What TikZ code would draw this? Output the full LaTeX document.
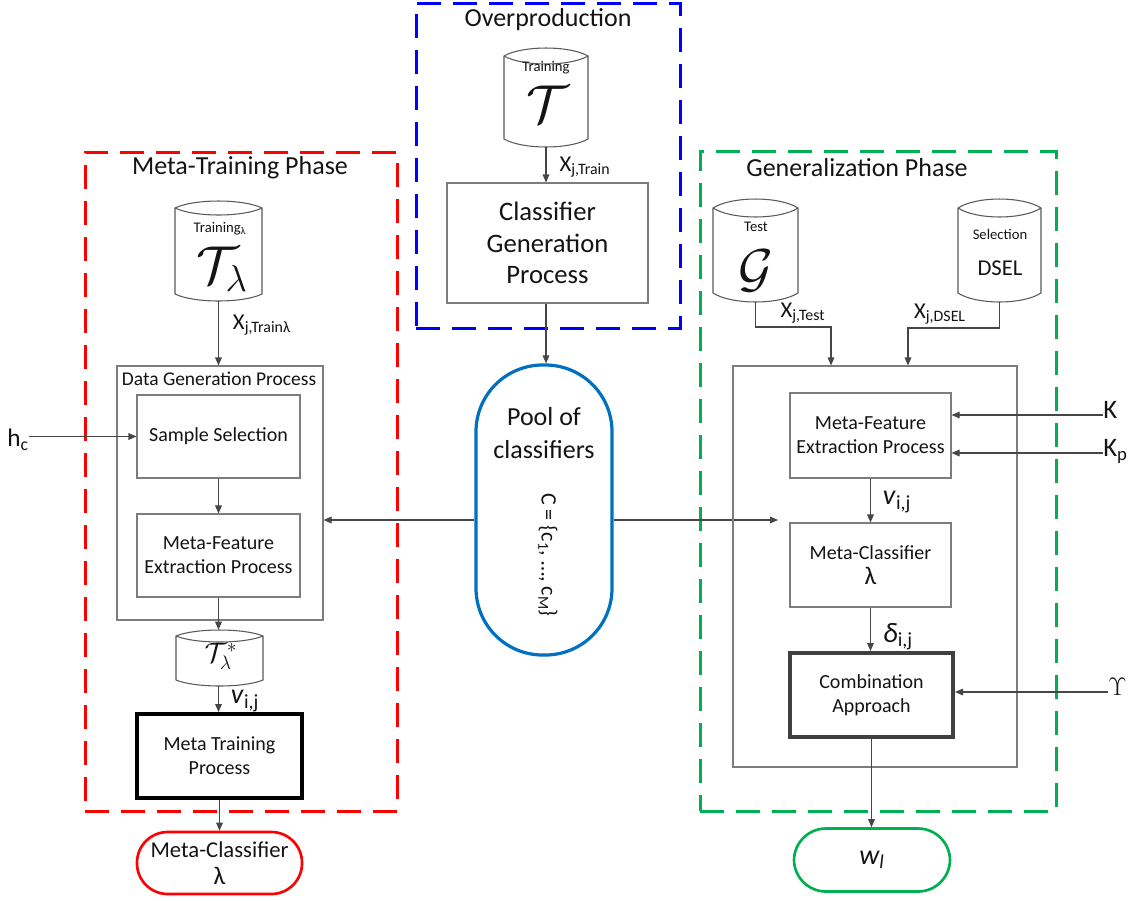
\documentclass[tikz,border=0pt]{standalone}
\usepackage{fix-cm}
\usepackage{fontspec}
\setmainfont{Carlito}
\usetikzlibrary{arrows.meta,fit,calc}
\definecolor{redc}{RGB}{255,0,0}
\definecolor{greenc}{RGB}{0,176,80}
\definecolor{bluec}{RGB}{0,0,255}
\definecolor{poolc}{RGB}{0,112,192}
\definecolor{boxgray}{RGB}{125,125,125}
\definecolor{linec}{RGB}{70,70,70}
\definecolor{cylgray}{RGB}{90,90,90}
\definecolor{darkbox}{RGB}{64,64,64}
\definecolor{txt}{RGB}{20,20,20}
\newcommand{\fsz}[2]{\fontsize{#1pt}{#2pt}\selectfont}
\newcommand{\dbcyl}[6]{%
  \pgfmathsetmacro\cqa{#2+(#3-#2)*0.22}%
  \pgfmathsetmacro\cqb{#2+(#3-#2)*0.78}%
  \pgfmathsetmacro\cyu{#4-1.33*#6}%
  \pgfmathsetmacro\cyd{#4+1.33*#6}%
  \pgfmathsetmacro\cyb{#5+1.33*#6}%
  \pgfmathsetmacro\ctop{#4-#6}%
  \pgfmathsetmacro\cbot{#5+#6}%
  \draw[cylline] (#2,#4) .. controls (\cqa,\cyu) and (\cqb,\cyu) .. (#3,#4) -- (#3,#5) .. controls (\cqb,\cyb) and (\cqa,\cyb) .. (#2,#5) -- cycle;
  \draw[cylline] (#2,#4) .. controls (\cqa,\cyd) and (\cqb,\cyd) .. (#3,#4);
  \node[inner sep=0pt, fit={(#2,\ctop) (#3,\cbot)}] (#1) {};
}
\begin{document}
\begin{tikzpicture}[x=0.75pt,y=-0.75pt,
  every node/.style={text=txt},
  phaseframe/.style={draw=#1, line width=2.25pt, dash pattern=on 18pt off 9pt, inner sep=0pt},
  conn/.style={draw=linec, line width=0.8pt, -{Triangle[length=6pt,width=5pt]}},
  box/.style={draw=boxgray, line width=0.8pt, align=center, inner sep=0pt},
  thickbox/.style={draw=#1, line width=3pt, align=center, inner sep=0pt},
  cylline/.style={draw=cylgray, line width=0.8pt},
  term/.style={draw=#1, line width=2pt, align=center, inner sep=0pt},
  lbl/.style={inner sep=0pt, font=\fsz{17}{19}},
  cyltxt/.style={inner sep=0pt},
]
\useasboundingbox[fill=white] (0,0) rectangle (1134,900);

% ---------------- frames
\node[phaseframe=bluec, fit={(416,3) (680,328)}] (ovp) {};
\node[phaseframe=redc, fit={(85,152) (397,811)}] (mtr) {};
\node[phaseframe=greenc, fit={(700,151) (1056,811)}] (gen) {};
\node[font=\fsz{19.5}{22}] (ovpt) at (548,20) {Overproduction};
\node[font=\fsz{19.5}{22}] (mtrt) at (240,168) {Meta-Training Phase};
\node[font=\fsz{19.5}{22}] (gent) at (857,168) {Generalization Phase};

% ---------------- overproduction
\dbcyl{tr}{504}{588}{56}{139}{8}
\node[cyltxt, font=\fsz{11}{13}] (trl) at (546,68) {Training};
\node[cyltxt, font=\fsz{40}{42}] (trs) at (548,104) {$\mathcal{T}$};
\node[box, minimum width=201*0.75pt, minimum height=120*0.75pt, font=\fsz{20}{23.6}] (cgp) at (547.5,243) {Classifier\\Generation\\Process};
\node[draw=poolc, line width=2.4pt, rounded corners=50pt, minimum width=136*0.75pt, minimum height=290*0.75pt, inner sep=0pt] (pool) at (544,510) {};
\node[align=center, font=\fsz{19.5}{24.75}] (poolt) at (544,433) {Pool of\\classifiers};
\node[rotate=-90, font=\fsz{16.5}{18}] (poolc) at (548,555) {C = \{c\textsubscript{1}, …, c\textsubscript{M}\}};

\draw[conn] (tr.south) -- (tr.south |- cgp.north);
\node[lbl] at (585,167) {X\textsubscript{j,Train}};
\draw[conn] (cgp.south -| tr.south) -- (tr.south |- pool.north);

% ---------------- meta-training
\dbcyl{tl}{175}{262}{208}{294}{7}
\node[cyltxt, font=\fsz{11}{13}] (tll) at (220,229) {Training\textsubscript{λ}};
\node[cyltxt, font=\fsz{40}{42}] (tls) at (222,269) {$\mathcal{T}_{\lambda}$};
\node[box, minimum width=206*0.75pt, minimum height=254*0.75pt] (dgp) at (220,493) {};
\node[font=\fsz{14.6}{17}] (dgpt) at (219,379) {Data Generation Process};
\node[box, minimum width=163*0.75pt, minimum height=83*0.75pt, font=\fsz{15}{18}] (ss) at (218.5,436.5) {Sample Selection};
\node[box, minimum width=163*0.75pt, minimum height=83*0.75pt, font=\fsz{15}{18}] (mfe1) at (218.5,555.5) {Meta-Feature\\Extraction Process};
\dbcyl{ts}{176}{263}{636}{680}{6}
\node[cyltxt, font=\fsz{21}{23}] (tss) at (221,656) {$\mathcal{T}_{\lambda}^{*}$};
\node[thickbox=black, minimum width=165*0.75pt, minimum height=84*0.75pt, font=\fsz{15}{18}] (mtp) at (219.5,756) {Meta Training\\Process};
\node[term=redc, rounded corners=23pt, minimum width=165*0.75pt, minimum height=62*0.75pt, font=\fsz{17}{21}] (mc) at (219.5,863) {Meta-Classifier\\[-1pt]{\fsz{19}{20}λ}};
\node[inner sep=0pt, font=\fsz{19}{21}] (hc) at (18,440) {h\textsubscript{c}};

\draw[conn] (tl.south) -- (tl.south |- dgp.north);
\node[lbl] at (262,325) {X\textsubscript{j,Trainλ}};
\draw[conn] (hc.east |- ss.west) -- (ss.west);
\draw[conn] (ss.south) -- (mfe1.north);
\draw[conn] (mfe1.south) -- (mfe1.south |- ts.north);
\draw[conn] (ts.south -| mfe1.south) -- (mfe1.south |- mtp.north);
\node[lbl, font=\fsz{21}{22}] at (245,701) {\textit{v}\textsubscript{\fsz{15}{16}i,j}};
\draw[conn] (mtp.south) -- (mc.north);

% ---------------- pool connections
\coordinate (py) at (0,520);
\coordinate (rt) at (778,520);
\draw[conn] (pool.west |- py) -- (dgp.east |- py);
\draw[conn] (pool.east |- py) -- (rt);

% ---------------- generalization
\dbcyl{te}{713}{798}{208}{293}{9}
\node[cyltxt, font=\fsz{11}{13}] (tel) at (756,227) {Test};
\node[cyltxt, font=\fsz{40}{42}] (tes) at (756,271) {$\mathcal{G}$};
\dbcyl{se}{958}{1041}{208}{293}{9}
\node[cyltxt, font=\fsz{11}{13}] (sel) at (1000,234) {Selection};
\node[cyltxt, font=\fsz{17}{19}] (ses) at (1000,268) {DSEL};
\node[box, minimum width=284*0.75pt, minimum height=401*0.75pt] (inner) at (875,566.5) {};
\node[box, minimum width=161*0.75pt, minimum height=85*0.75pt, font=\fsz{15}{18}] (mfe2) at (870.5,435.5) {Meta-Feature\\Extraction Process};
\node[box, minimum width=161*0.75pt, minimum height=84*0.75pt, font=\fsz{15}{18}] (mcl) at (870.5,565) {Meta-Classifier\\[1pt]{\fsz{19}{20}λ}};
\node[thickbox=darkbox, minimum width=163*0.75pt, minimum height=84*0.75pt, font=\fsz{15}{18}] (ca) at (871.5,695) {Combination\\Approach};
\node[term=greenc, rounded corners=24pt, minimum width=156*0.75pt, minimum height=63*0.75pt, font=\fsz{21}{22}] (wl) at (872,860) {\textit{w\textsubscript{l}}};

\coordinate (tebend) at (831,327);
\coordinate (sebend) at (908,328);
\draw[conn] (te.south) |- (tebend) -- (tebend |- inner.north);
\draw[conn] (se.south) |- (sebend) -- (sebend |- inner.north);
\node[lbl] at (803,313) {X\textsubscript{j,Test}};
\node[lbl] at (940,314) {X\textsubscript{j,DSEL}};

\node[anchor=mid west, inner sep=0pt, font=\fsz{20}{22}] (K) at (1103,415) {K};
\node[anchor=mid west, inner sep=0pt, font=\fsz{20}{22}] (Kp) at (1103,453) {K\textsubscript{p}};
\node[anchor=mid west, inner sep=0pt, font=\fsz{19}{22}] (Y) at (1108,692) {$\Upsilon$};
\draw[conn] (K.mid west) -- (mfe2.east |- K.mid west);
\draw[conn] (Kp.mid west) -- (mfe2.east |- Kp.mid west);
\draw[conn] (Y.mid west) -- (ca.east |- Y.mid west);

\draw[conn] (mfe2.south) -- (mcl.north);
\node[lbl, font=\fsz{21}{22}] at (897,502) {\textit{v}\textsubscript{\fsz{15}{16}i,j}};
\draw[conn] (mcl.south) -- (mcl.south |- ca.north);
\node[lbl, font=\fsz{21}{22}] at (898,637) {\textit{δ}\textsubscript{\fsz{15}{16}i,j}};
\draw[conn] (ca.south) -- (ca.south |- wl.north);
\end{tikzpicture}
\end{document}
